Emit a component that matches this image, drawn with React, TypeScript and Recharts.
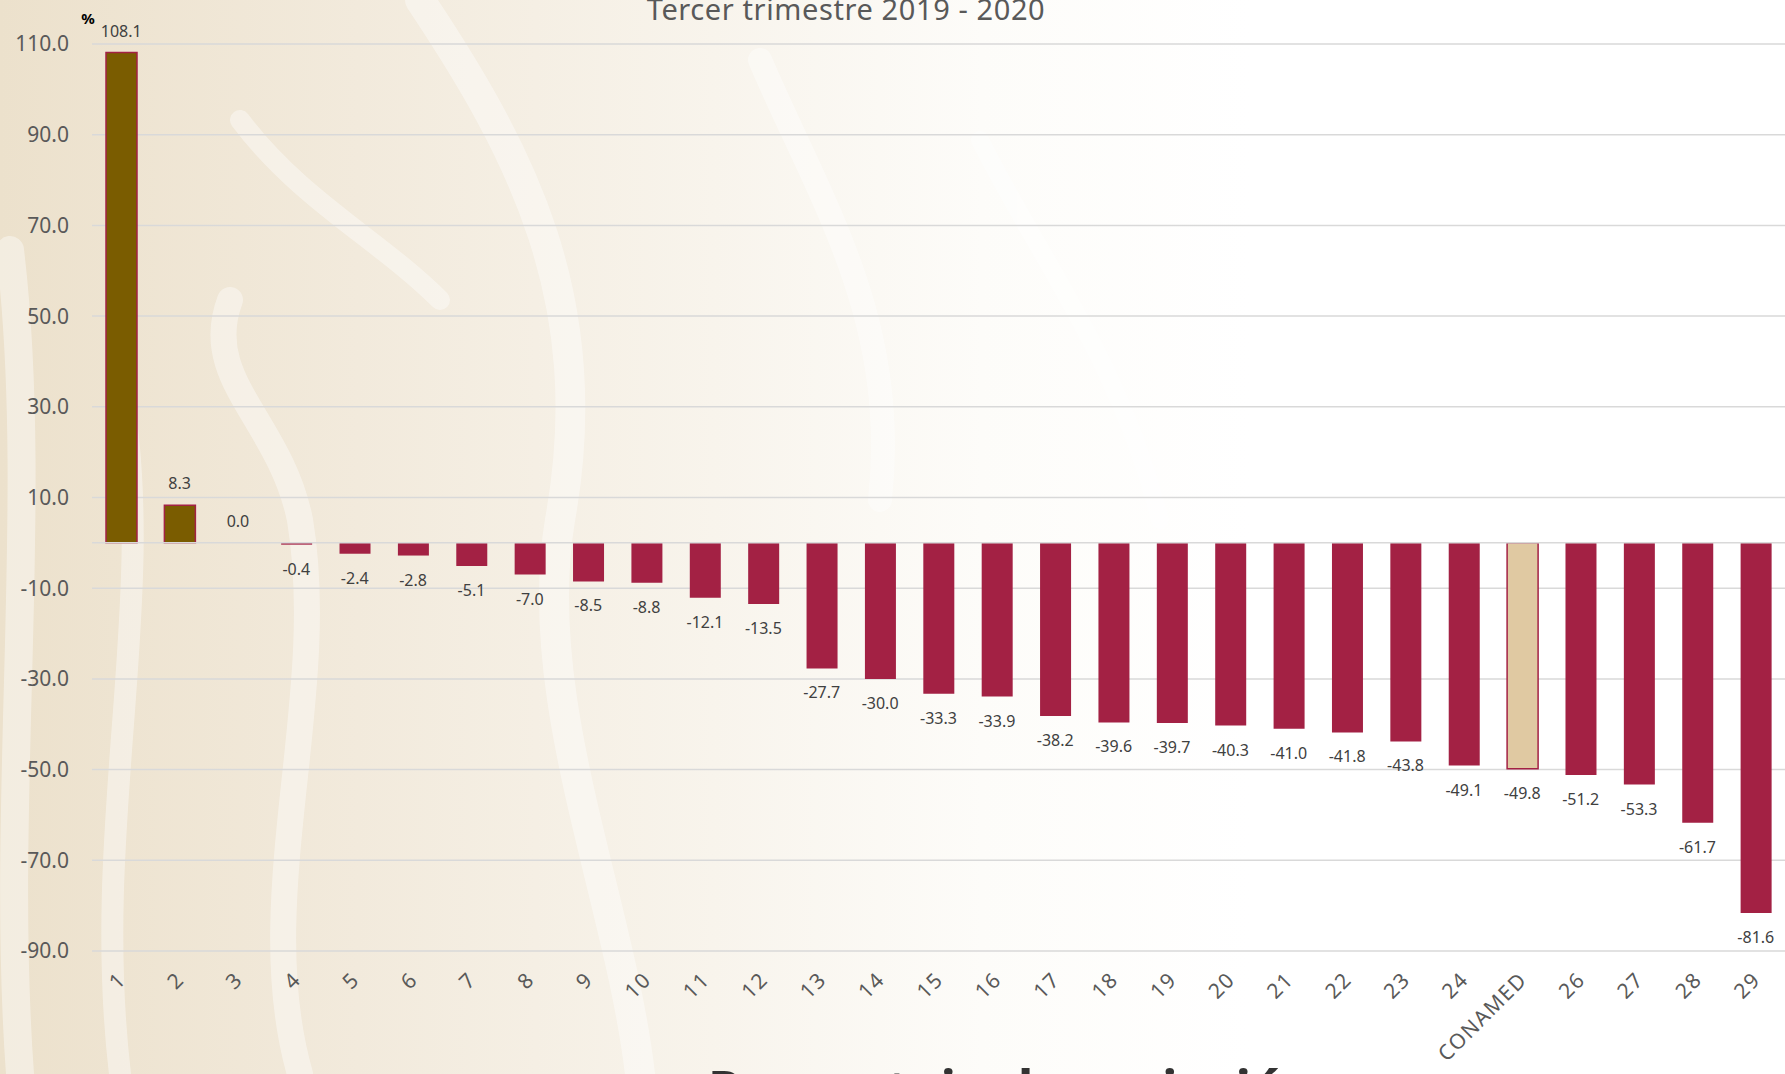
import React from 'react';
import {
  ComposedChart,
  Bar,
  Line,
  XAxis,
  YAxis,
  CartesianGrid,
  ReferenceLine,
  LabelList,
  Cell,
} from 'recharts';

// Variación porcentual, tercer trimestre 2019 - 2020
const categories = [
  '1', '2', '3', '4', '5', '6', '7', '8', '9', '10',
  '11', '12', '13', '14', '15', '16', '17', '18', '19', '20',
  '21', '22', '23', '24', 'CONAMED', '26', '27', '28', '29',
];

const values = [
  108.1, 8.3, 0.0, -0.4, -2.4, -2.8, -5.1, -7.0, -8.5, -8.8,
  -12.1, -13.5, -27.7, -30.0, -33.3, -33.9, -38.2, -39.6, -39.7, -40.3,
  -41.0, -41.8, -43.8, -49.1, -49.8, -51.2, -53.3, -61.7, -81.6,
];

const yTicks = [110, 90, 70, 50, 30, 10, -10, -30, -50, -70, -90];

const highlight = 'CONAMED';

const data = categories.map((name, i) => ({ name, value: values[i] }));

const W = 1785;
const H = 1074;
const FONT = '"Noto Sans", "Open Sans", sans-serif';

const GUINDA = '#a32144';
const OLIVE = '#7a5c00';
const BEIGE = '#e0c9a2';

const fillFor = (name: string, v: number) => {
  if (name === highlight) return BEIGE;
  return v > 0 ? OLIVE : GUINDA;
};

// etiqueta de valor, encima de barras positivas y debajo de las negativas
const ValueLabel = (props: any) => {
  const { x, y, value } = props;
  if (x == null || y == null) return null;
  const ly = value >= 0 ? y - 22 : y + 24;
  return (
    <text
      x={x}
      y={ly}
      textAnchor="middle"
      dominantBaseline="central"
      fontFamily={FONT}
      fontSize={16}
      fill="#404040"
    >
      {Number(value).toFixed(1)}
    </text>
  );
};

const XTick = (props: any) => {
  const { x, y, payload } = props;
  return (
    <g transform={`translate(${x + 6},${y + 22})`}>
      <text
        textAnchor="end"
        transform="rotate(-45)"
        fontFamily={FONT}
        fontSize={21}
        letterSpacing={1.5}
        fill="#595959"
      >
        {payload.value}
      </text>
    </g>
  );
};

const Background = () => (
  <svg width={W} height={H} style={{ position: 'absolute', left: 0, top: 0 }}>
    <defs>
      <linearGradient id="bg" x1="0" y1="0" x2="1" y2="0">
        <stop offset="0" stopColor="#ece1cc" />
        <stop offset="0.2" stopColor="#f2eadc" />
        <stop offset="0.4" stopColor="#f8f4ec" />
        <stop offset="0.55" stopColor="#fdfcf9" />
        <stop offset="0.7" stopColor="#ffffff" />
      </linearGradient>
    </defs>
    <rect width={W} height={H} fill="url(#bg)" />
    <g fill="none" stroke="#ffffff" strokeLinecap="round" opacity={0.4}>
      <path d="M 20 1074 C 0 800, 40 500, 10 250" strokeWidth={28} />
      <path d="M 120 1074 C 90 820, 160 600, 120 380" strokeWidth={22} />
      <path d="M 300 1074 C 250 900, 330 700, 300 520 C 280 420, 200 380, 230 300" strokeWidth={26} />
      <path d="M 420 0 C 520 150, 600 300, 560 520 C 530 700, 620 900, 640 1074" strokeWidth={30} />
      <path d="M 760 60 C 820 200, 900 320, 880 500" strokeWidth={24} />
      <path d="M 240 120 C 300 200, 380 240, 440 300" strokeWidth={20} />
      <path d="M 980 140 C 1040 260, 1120 360, 1160 520" strokeWidth={18} />
    </g>
  </svg>
);

const Overlay = () => (
  <svg
    width={W}
    height={H}
    style={{ position: 'absolute', left: 0, top: 0, pointerEvents: 'none' }}
  >
    <text
      x={846}
      y={20}
      textAnchor="middle"
      fontFamily={FONT}
      fontSize={29}
      letterSpacing={0.6}
      fill="#595959"
    >
      Tercer trimestre 2019 - 2020
    </text>
    <text
      x={88}
      y={24}
      textAnchor="middle"
      fontFamily={FONT}
      fontSize={15}
      fontWeight={700}
      fill="#000000"
    >
      %
    </text>
    <text
      x={708}
      y={1108}
      fontFamily={FONT}
      fontSize={52}
      fontWeight={700}
      fill="#333333"
    >
      Porcentaje de variación
    </text>
  </svg>
);

export default function App() {
  return (
    <div
      style={{
        position: 'absolute',
        left: 0,
        top: 0,
        width: W,
        height: H,
        overflow: 'hidden',
      }}
    >
      <Background />
      <div style={{ position: 'absolute', left: 0, top: 0 }}>
        <ComposedChart
          width={W}
          height={H}
          data={data}
          margin={{ top: 44, right: 0, bottom: 0, left: 0 }}
        >
          <CartesianGrid
            vertical={false}
            stroke="#d9d9d9"
            strokeWidth={1.5}
          />
          <ReferenceLine y={0} stroke="#d9d9d9" strokeWidth={1.5} />
          <XAxis
            dataKey="name"
            interval={0}
            axisLine={false}
            tickLine={false}
            height={123}
            tick={<XTick />}
          />
          <YAxis
            domain={[-90, 110]}
            ticks={yTicks}
            width={92}
            axisLine={false}
            tickLine={false}
            tickMargin={17}
            tickFormatter={(v: number) => v.toFixed(1)}
            tick={{ fontFamily: FONT, fontSize: 21, fill: '#595959' }}
          />
          <Bar dataKey="value" barSize={31} isAnimationActive={false}>
            {data.map((d) => (
              <Cell
                key={d.name}
                fill={fillFor(d.name, d.value)}
                stroke={d.value > 0 || d.name === highlight ? GUINDA : 'none'}
                strokeWidth={1.5}
              />
            ))}
          </Bar>
          <Line
            dataKey="value"
            stroke="none"
            dot={false}
            activeDot={false}
            legendType="none"
            isAnimationActive={false}
          >
            <LabelList dataKey="value" content={<ValueLabel />} />
          </Line>
        </ComposedChart>
      </div>
      <Overlay />
    </div>
  );
}
